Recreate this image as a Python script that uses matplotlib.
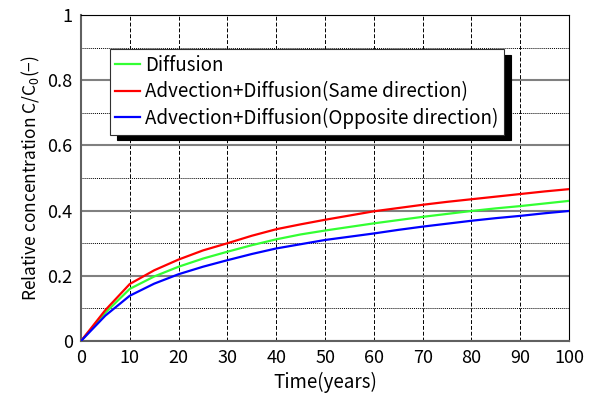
import matplotlib as mpl
mpl.use('Agg')
import matplotlib.pyplot as plt
from matplotlib.ticker import MultipleLocator

plt.rcParams['font.family'] = ['Noto Sans CJK JP', 'DejaVu Sans']
plt.rcParams['mathtext.fontset'] = 'custom'
plt.rcParams['mathtext.rm'] = 'Noto Sans CJK JP'
plt.rcParams['mathtext.it'] = 'Noto Sans CJK JP'

# time in years, every 5 years
years = [0, 5, 10, 15, 20, 25, 30, 35, 40, 45, 50, 55, 60, 65, 70, 75, 80, 85, 90, 95, 100]
diffusion = [0, 0.087, 0.160, 0.198, 0.228, 0.253, 0.274, 0.294, 0.312, 0.327, 0.339,
             0.350, 0.361, 0.371, 0.381, 0.390, 0.399, 0.407, 0.414, 0.422, 0.430]
same_dir = [0, 0.095, 0.175, 0.217, 0.250, 0.278, 0.300, 0.323, 0.343, 0.358, 0.372,
            0.385, 0.398, 0.408, 0.418, 0.427, 0.435, 0.443, 0.451, 0.459, 0.466]
opposite_dir = [0, 0.078, 0.139, 0.176, 0.205, 0.228, 0.248, 0.267, 0.284, 0.297, 0.310,
                0.320, 0.330, 0.341, 0.351, 0.360, 0.369, 0.377, 0.384, 0.392, 0.399]
labels = ['Diffusion', 'Advection+Diffusion(Same direction)',
          'Advection+Diffusion(Opposite direction)']
xticks = [0, 10, 20, 30, 40, 50, 60, 70, 80, 90, 100]
yticks = [0, 0.2, 0.4, 0.6, 0.8, 1]
ytick_labels = ['0', '0.2', '0.4', '0.6', '0.8', '1']

fig = plt.figure(figsize=(5.91, 3.97), dpi=100)
ax = fig.add_axes([0.137, 0.141, 0.826, 0.821])

ax.plot(years, diffusion, color='#33ff33', lw=1.6, label=labels[0], zorder=3)
ax.plot(years, same_dir, color='#ff0000', lw=1.6, label=labels[1], zorder=3)
ax.plot(years, opposite_dir, color='#0000ff', lw=1.6, label=labels[2], zorder=3)

ax.set_xlim(0, 100)
ax.set_ylim(0, 1)
ax.set_xticks(xticks)
ax.set_yticks(yticks)
ax.set_yticklabels(ytick_labels)
ax.yaxis.set_minor_locator(MultipleLocator(0.1))
ax.tick_params(which='both', length=0, labelsize=13, colors='black')
ax.tick_params(axis='x', pad=6)
ax.tick_params(axis='y', pad=6)

ax.grid(axis='y', which='major', color='#808080', lw=1.5, ls='-')
ax.grid(axis='y', which='minor', color='black', lw=0.7, ls=(0, (1, 1)))
ax.grid(axis='x', which='major', color='black', lw=0.7, ls=(0, (4, 2)))
ax.set_axisbelow(True)

for s in ['left', 'bottom']:
    ax.spines[s].set_color('#606060')
    ax.spines[s].set_linewidth(1.5)
for s in ['top', 'right']:
    ax.spines[s].set_color('black')
    ax.spines[s].set_linewidth(0.8)

ax.set_xlabel('Time(years)', fontsize=13.5, labelpad=3)
ax.set_ylabel('Relative concentration C/C$_0$(\u2212)', fontsize=12.5)

leg = ax.legend(loc='upper left', bbox_to_anchor=(0.059, 0.896), borderaxespad=0,
                fancybox=False, shadow={'ox': 5, 'oy': -4, 'color': 'black', 'alpha': 1},
                fontsize=13.5, handlelength=1.3, handletextpad=0.3, labelspacing=0.3,
                borderpad=0.3, framealpha=1)
leg.get_frame().set_edgecolor('#303030')
leg.get_frame().set_linewidth(0.8)

plt.savefig('out.png', dpi=100)
